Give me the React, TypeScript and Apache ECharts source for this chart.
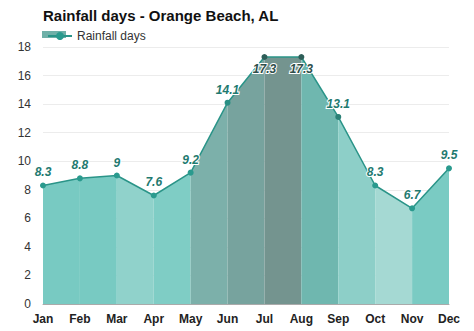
import React, { useEffect, useRef } from "react";
import * as echarts from "echarts";

const months = ["Jan", "Feb", "Mar", "Apr", "May", "Jun", "Jul", "Aug", "Sep", "Oct", "Nov", "Dec"];
const rainfallDays = [8.3, 8.8, 9, 7.6, 9.2, 14.1, 17.3, 17.3, 13.1, 8.3, 6.7, 9.5];
const segmentColors = [
  "#78cac2", "#78cac2", "#90d2cb", "#7fcdc5", "#7cb0aa", "#77a39e",
  "#74948f", "#6fb7af", "#8dcfc8", "#a5d9d3", "#7acbc3",
];
const markerColors = [
  "#2a9a8e", "#2a9a8e", "#2a9a8e", "#2a9a8e", "#2a9a8e", "#2a8f84",
  "#2e5e58", "#2e5e58", "#2a8076", "#2a9a8e", "#2a9a8e", "#2a9a8e",
];
const yTicks = [0, 2, 4, 6, 8, 10, 12, 14, 16, 18];

export default function App() {
  const ref = useRef<HTMLDivElement>(null);
  useEffect(() => {
    if (!ref.current) return;
    const chart = echarts.init(ref.current, undefined, { renderer: "svg" });
    const segSeries = segmentColors.map((c, i) => ({
      type: "line",
      name: "seg" + i,
      data: rainfallDays.map((v, j) => (j === i || j === i + 1 ? v : "-")),
      symbol: "none",
      lineStyle: { width: 0 },
      areaStyle: { color: c, opacity: 1 },
      silent: true,
      z: 1,
    }));
    chart.setOption({
      animation: false,
      title: {
        text: "Rainfall days - Orange Beach, AL",
        left: 38,
        top: 3,
        textStyle: { fontFamily: "Liberation Sans, Arial", fontSize: 15, fontWeight: "bold", color: "#111" },
      },
      legend: {
        data: ["Rainfall days"],
        left: 42,
        top: 25,
        itemWidth: 24,
        itemHeight: 10,
        itemGap: 5,
        z: 5,
        textStyle: { fontFamily: "Liberation Sans, Arial", fontSize: 12, color: "#333" },
      },
      graphic: [
        {
          type: "rect",
          left: 42,
          top: 31,
          shape: { width: 24, height: 7 },
          style: { fill: "#6fb0a8" },
          z: 0,
        },
      ],
      grid: { left: 43, right: 25, top: 47, bottom: 27 },
      xAxis: {
        type: "category",
        boundaryGap: false,
        data: months,
        axisTick: { show: false },
        axisLine: { lineStyle: { color: "#aaa" } },
        axisLabel: { fontFamily: "Liberation Sans, Arial", fontSize: 12, fontWeight: "bold", color: "#222", margin: 9 },
      },
      yAxis: {
        type: "value",
        min: yTicks[0],
        max: yTicks[yTicks.length - 1],
        interval: 2,
        axisLabel: { fontFamily: "Liberation Sans, Arial", fontSize: 12, color: "#333", margin: 12 },
        splitLine: { lineStyle: { color: "#ececec" } },
        axisLine: { show: false },
        axisTick: { show: false },
      },
      series: [
        ...segSeries,
        {
          type: "line",
          name: "Rainfall days",
          data: rainfallDays.map((v, i) => ({
            value: v,
            itemStyle: { color: markerColors[i] },
            label: i === 6 || i === 7 ? { position: "bottom", distance: 3, color: "#2e4f4b" } : undefined,
          })),
          symbol: "circle",
          symbolSize: 6,
          lineStyle: { color: "#2a9488", width: 1.5 },
          itemStyle: { color: "#2a9a8e" },
          z: 3,
          label: {
            show: true,
            position: "top",
            distance: 4,
            fontFamily: "Liberation Sans, Arial",
            fontSize: 12,
            fontWeight: "bold",
            fontStyle: "italic",
            color: "#1f7a70",
            textBorderColor: "#fff",
            textBorderWidth: 2,
          },
        },
      ],
    });
    return () => chart.dispose();
  }, []);
  return <div ref={ref} style={{ width: 474, height: 331, position: "absolute", left: 0, top: 0 }} />;
}
